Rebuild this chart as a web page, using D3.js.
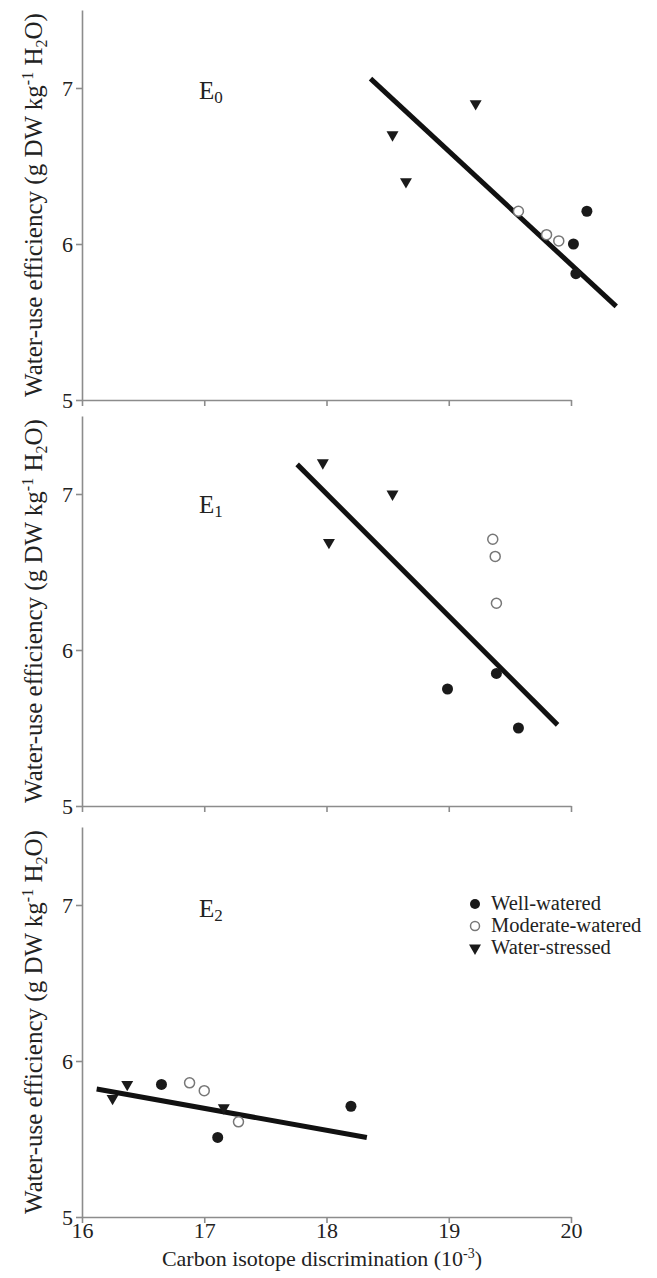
<!DOCTYPE html>
<html>
<head>
<meta charset="utf-8">
<script src="https://cdn.jsdelivr.net/npm/d3@7"></script>
<style>
  body { margin: 0; background: #fff; }
  text { font-family: "Liberation Serif", "Times New Roman", serif; fill: #222; }
</style>
</head>
<body>
<script>
// tick values
var xTicks = [16, 17, 18, 19, 20];
var yTicks = [5, 6, 7];

// panel names (subscript digit)
var panelSubs = ["0", "1", "2"];

// E0 values [discrimination, WUE]
var e0Well = [[20.13, 6.21], [20.02, 6.00], [20.04, 5.81]];
var e0Moderate = [[19.57, 6.21], [19.80, 6.06], [19.90, 6.02]];
var e0Stressed = [[19.22, 6.90], [18.54, 6.70], [18.65, 6.40]];
var e0Fit = [[18.36, 7.06], [20.37, 5.60]];

// E1
var e1Well = [[19.39, 5.85], [18.99, 5.75], [19.57, 5.50]];
var e1Moderate = [[19.36, 6.71], [19.38, 6.60], [19.39, 6.30]];
var e1Stressed = [[17.97, 7.20], [18.54, 7.00], [18.02, 6.69]];
var e1Fit = [[17.76, 7.19], [19.89, 5.52]];

// E2
var e2Well = [[16.65, 5.85], [17.11, 5.51], [18.20, 5.71]];
var e2Moderate = [[16.88, 5.86], [17.00, 5.81], [17.28, 5.61]];
var e2Stressed = [[16.25, 5.76], [16.37, 5.85], [17.16, 5.70]];
var e2Fit = [[16.12, 5.82], [18.33, 5.51]];

var legendLabels = ["Well-watered", "Moderate-watered", "Water-stressed"];

var panels = [
  { well: e0Well, moderate: e0Moderate, stressed: e0Stressed, fit: e0Fit },
  { well: e1Well, moderate: e1Moderate, stressed: e1Stressed, fit: e1Fit },
  { well: e2Well, moderate: e2Moderate, stressed: e2Stressed, fit: e2Fit }
];

var svgWidth = 657;
var svgHeight = 1278;
var axisColor = "#8c8c8c";

var bottoms = [400, 806, 1217];
var plotHeight = 390;
var labelOffsets = [11, 19, 12];

var svg = d3.select("body")
  .append("svg")
  .attr("width", svgWidth)
  .attr("height", svgHeight);

var xScale = d3.scaleLinear()
  .domain([16, 20])
  .range([82, 571]);

var triangle = d3.symbol().type(d3.symbolTriangle).size(62);

panels.forEach(function (p, i) {
  var yScale = d3.scaleLinear()
    .domain([5, 7.5])
    .range([bottoms[i], bottoms[i] - plotHeight]);

  var g = svg.append("g");

  // axes
  var leftAxis = d3.axisLeft(yScale)
    .tickValues(yTicks)
    .tickFormat(d3.format("d"))
    .tickSizeInner(6)
    .tickSizeOuter(0)
    .tickPadding(3);

  var bottomAxis = d3.axisBottom(xScale)
    .tickValues(xTicks)
    .tickSizeInner(6)
    .tickSizeOuter(0)
    .tickPadding(2)
    .tickFormat(i === 2 ? d3.format("d") : function () { return ""; });

  var yg = g.append("g")
    .attr("transform", "translate(" + xScale(16) + ",0)")
    .call(leftAxis);

  var xg = g.append("g")
    .attr("transform", "translate(0," + bottoms[i] + ")")
    .call(bottomAxis);

  [yg, xg].forEach(function (ax) {
    ax.selectAll("path, line").attr("stroke", axisColor).attr("stroke-width", 1.6);
    ax.selectAll("text")
      .attr("font-size", 22)
      .attr("fill", "#333")
      .style("font-family", "'Liberation Serif', serif");
  });
  yg.selectAll("text").attr("dy", "0.35em");
  xg.selectAll("text").attr("dy", "0.6em");

  // y title
  var yt = g.append("text")
    .attr("transform", "translate(42," + (bottoms[i] - plotHeight / 2) + ") rotate(-90)")
    .attr("text-anchor", "middle")
    .attr("font-size", 25);
  yt.append("tspan").text("Water-use efficiency (g DW kg");
  yt.append("tspan").attr("dy", -9).attr("font-size", 16).text("-1");
  yt.append("tspan").attr("dy", 9).text(" H");
  yt.append("tspan").attr("dy", 5).attr("font-size", 16).text("2");
  yt.append("tspan").attr("dy", -5).text("O)");

  // panel label
  var pl = g.append("text")
    .attr("x", 199)
    .attr("y", yScale(7) + labelOffsets[i])
    .attr("font-size", 25);
  pl.append("tspan").text("E");
  pl.append("tspan").attr("dy", 4).attr("font-size", 17).text(panelSubs[i]);

  // regression line
  g.append("line")
    .attr("x1", xScale(p.fit[0][0]))
    .attr("y1", yScale(p.fit[0][1]))
    .attr("x2", xScale(p.fit[1][0]))
    .attr("y2", yScale(p.fit[1][1]))
    .attr("stroke", "#111")
    .attr("stroke-width", 5);

  // points
  g.selectAll(".stressed")
    .data(p.stressed)
    .enter()
    .append("path")
    .attr("d", triangle)
    .attr("transform", function (d) {
      return "translate(" + xScale(d[0]) + "," + yScale(d[1]) + ") rotate(180)";
    })
    .attr("fill", "#1a1a1a");

  g.selectAll(".moderate")
    .data(p.moderate)
    .enter()
    .append("circle")
    .attr("cx", d => xScale(d[0]))
    .attr("cy", d => yScale(d[1]))
    .attr("r", 5)
    .attr("fill", "#fff")
    .attr("stroke", "#777")
    .attr("stroke-width", 1.5);

  g.selectAll(".well")
    .data(p.well)
    .enter()
    .append("circle")
    .attr("cx", d => xScale(d[0]))
    .attr("cy", d => yScale(d[1]))
    .attr("r", 5.5)
    .attr("fill", "#1a1a1a");
});

// x title
var xt = svg.append("text")
  .attr("x", 322)
  .attr("y", 1266)
  .attr("text-anchor", "middle")
  .attr("font-size", 22);
xt.append("tspan").text("Carbon isotope discrimination (10");
xt.append("tspan").attr("dy", -8).attr("font-size", 14).text("-3");
xt.append("tspan").attr("dy", 8).text(")");

// legend
var legend = svg.append("g").attr("transform", "translate(475,904)");
legendLabels.forEach(function (name, k) {
  var row = legend.append("g").attr("transform", "translate(0," + (k * 22) + ")");
  if (k === 0) {
    row.append("circle").attr("r", 5).attr("fill", "#1a1a1a");
  } else if (k === 1) {
    row.append("circle").attr("r", 4.5).attr("fill", "#fff").attr("stroke", "#777").attr("stroke-width", 1.5);
  } else {
    row.append("path").attr("d", triangle).attr("transform", "rotate(180)").attr("fill", "#1a1a1a");
  }
  row.append("text")
    .attr("x", 16)
    .attr("y", 6)
    .attr("font-size", 20.5)
    .text(name);
});
</script>
</body>
</html>
